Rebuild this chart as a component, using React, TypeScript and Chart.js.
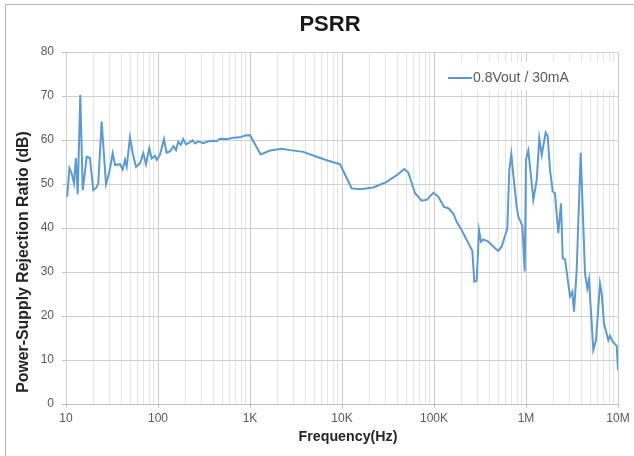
import React, { useEffect, useRef } from "react";
import { Chart, registerables } from "chart.js";

Chart.register(...registerables);

// ---- data ----
const FREQ_HZ = [
  10.3, 10.9, 11.5, 12.2, 12.8, 13.4, 14.3, 15.2, 16.8, 18.2, 19.8, 21.2, 22.4, 24.4, 27.2, 29.6,
  32.2, 34.1, 38.6, 41.3, 43.8, 45.7, 49.6, 53.1, 57.7, 63.7, 69.2, 74.1, 80.4, 85.4, 92.8, 96.8,
  105, 116, 124, 135, 147, 157, 166, 177, 188, 202, 223, 238, 253, 274, 311, 352, 399, 434, 472,
  558, 658, 779, 883, 1000, 1307, 1650, 2211, 2721, 3796, 5309, 7097, 9512, 12750, 15700, 21890,
  30610, 39320, 47560, 52560, 62160, 73500, 83300, 98300, 111400, 128500, 143000, 162100, 176500,
  200100, 226700, 260900, 274200, 291200, 308400, 324300, 343500, 389200, 460300, 500000, 544400,
  626300, 658500, 692200, 727800, 792500, 825000, 911800, 968000, 1000000, 1059000, 1125000,
  1200000, 1307000, 1395000, 1481000, 1637000, 1721000, 1823000, 1951000, 2066000, 2244000,
  2401000, 2506000, 2654000, 3008000, 3186000, 3325000, 3556000, 3932000, 4378000, 4638000,
  4839000, 5178000, 5389000, 5767000, 6373000, 6650000, 7044000, 7845000, 8185000, 8758000,
  9277000, 9680000, 10000000,
];

const PSRR_DB = [
  47.1, 53.6, 52.5, 50.2, 55.9, 47.7, 70.2, 48.6, 56.2, 55.9, 48.6, 49.1, 50.0, 64.2, 50.0, 52.8,
  57.0, 54.3, 54.5, 53.3, 55.5, 53.9, 60.6, 57.0, 53.9, 54.7, 57.0, 54.5, 58.1, 55.8, 56.4, 55.5,
  56.6, 60.2, 57.1, 57.4, 58.6, 57.7, 59.6, 58.9, 60.2, 59.0, 59.5, 59.9, 59.2, 59.7, 59.3, 59.7,
  59.8, 59.7, 60.3, 60.2, 60.5, 60.6, 61.0, 61.1, 56.7, 57.6, 58.0, 57.7, 57.3, 56.2, 55.3, 54.5,
  49.0, 48.8, 49.2, 50.5, 52.0, 53.4, 52.6, 47.9, 46.2, 46.4, 48.0, 47.1, 44.8, 44.5, 43.3, 41.4,
  39.5, 37.3, 34.8, 27.8, 28.0, 39.5, 36.9, 37.4, 36.9, 35.4, 34.8, 35.8, 39.9, 53.2, 56.8, 52.0,
  44.8, 42.6, 40.5, 30.1, 55.6, 57.6, 52.4, 46.4, 50.9, 60.4, 56.6, 61.7, 60.9, 53.2, 48.3, 47.9,
  38.8, 45.6, 33.1, 32.9, 24.4, 25.5, 21.0, 30.5, 57.1, 29.7, 26.3, 28.3, 18.3, 12.3, 14.5, 27.4,
  25.1, 18.3, 14.5, 15.5, 14.2, 13.6, 13.2, 7.7,
];

const SERIES_LABEL = "0.8Vout / 30mA";
const CHART_TITLE = "PSRR";
const X_TITLE = "Frequency(Hz)";
const Y_TITLE = "Power-Supply Rejection Ratio (dB)";
const X_DECADES = [10, 100, 1000, 10000, 100000, 1000000, 10000000];
const X_DECADE_LABELS = ["10", "100", "1K", "10K", "100K", "1M", "10M"];
const Y_MIN = 0;
const Y_MAX = 80;
const Y_STEP = 10;

const FONT = "'Liberation Sans', Arial, sans-serif";
const LINE_COLOR = "#5b9bd5";

function isDecade(v: number) {
  const l = Math.log10(v);
  return Math.abs(l - Math.round(l)) < 1e-9;
}

function xTickValues(): number[] {
  const out: number[] = [];
  for (let i = 0; i < X_DECADES.length - 1; i++) {
    for (let m = 1; m <= 9; m++) out.push(m * X_DECADES[i]);
  }
  out.push(X_DECADES[X_DECADES.length - 1]);
  return out;
}

function fitFontSize(ctx: CanvasRenderingContext2D, text: string, weight: string, target: number) {
  ctx.font = `${weight} 100px ${FONT}`;
  const w = ctx.measureText(text).width;
  return (100 * target) / w;
}

const decorPlugin = {
  id: "decor",
  beforeDraw(chart: any) {
    const ctx = chart.ctx as CanvasRenderingContext2D;
    ctx.save();
    ctx.fillStyle = "#ffffff";
    ctx.fillRect(0, 0, chart.width, chart.height);
    // outer frame
    ctx.strokeStyle = "#b4b4b4";
    ctx.lineWidth = 1;
    ctx.beginPath();
    ctx.moveTo(5.5, chart.height);
    ctx.lineTo(5.5, 4.5);
    ctx.lineTo(chart.width, 4.5);
    ctx.stroke();
    ctx.restore();
  },
  afterDraw(chart: any) {
    const ctx = chart.ctx as CanvasRenderingContext2D;
    const area = chart.chartArea;
    ctx.save();
    // title
    ctx.fillStyle = "#1a1a1a";
    ctx.font = `bold 22px ${FONT}`;
    ctx.textAlign = "center";
    ctx.textBaseline = "middle";
    ctx.fillText(CHART_TITLE, 330, 25);

    // x title
    ctx.fillStyle = "#262626";
    const xs = fitFontSize(ctx, X_TITLE, "bold", 99);
    ctx.font = `bold ${xs}px ${FONT}`;
    ctx.fillText(X_TITLE, 348, 437.5);

    // y title
    const ys = fitFontSize(ctx, Y_TITLE, "bold", 262);
    ctx.font = `bold ${ys}px ${FONT}`;
    ctx.translate(24, 262);
    ctx.rotate(-Math.PI / 2);
    ctx.fillText(Y_TITLE, 0, 0);
    ctx.restore();

    // legend (inside plot, top-right)
    ctx.save();
    const lx = area.right - 180;
    const ly = area.top + 10;
    ctx.fillStyle = "#ffffff";
    ctx.fillRect(lx, ly, 176, 28);
    const cy = ly + 16;
    ctx.strokeStyle = LINE_COLOR;
    ctx.lineWidth = 2;
    ctx.beginPath();
    ctx.moveTo(lx + 10, cy);
    ctx.lineTo(lx + 34, cy);
    ctx.stroke();
    ctx.fillStyle = "#595959";
    ctx.font = `14px ${FONT}`;
    ctx.textAlign = "left";
    ctx.textBaseline = "middle";
    ctx.fillText(SERIES_LABEL, lx + 35, cy);
    ctx.restore();
  },
};

export default function App() {
  const canvasRef = useRef<HTMLCanvasElement | null>(null);

  useEffect(() => {
    if (!canvasRef.current) return;
    const points = FREQ_HZ.map((f, i) => ({ x: f, y: PSRR_DB[i] }));
    const chart = new Chart(canvasRef.current, {
      type: "line",
      data: {
        datasets: [
          {
            label: SERIES_LABEL,
            data: points,
            borderColor: LINE_COLOR,
            backgroundColor: LINE_COLOR,
            borderWidth: 2,
            pointRadius: 0,
            tension: 0,
            fill: false,
          },
        ],
      },
      options: {
        responsive: false,
        animation: false,
        devicePixelRatio: 1,
        layout: { padding: { top: 52, right: 16, left: 0, bottom: 0 } },
        plugins: {
          legend: { display: false },
          title: { display: false },
          tooltip: { enabled: false },
        },
        scales: {
          x: {
            type: "logarithmic",
            min: X_DECADES[0],
            max: X_DECADES[X_DECADES.length - 1],
            afterBuildTicks: (scale: any) => {
              scale.ticks = xTickValues().map((v) => ({ value: v, major: isDecade(v) }));
            },
            afterFit: (scale: any) => {
              scale.height = 52;
            },
            ticks: {
              autoSkip: false,
              maxRotation: 0,
              minRotation: 0,
              padding: 3,
              color: "#595959",
              font: { family: FONT, size: 12 },
              callback: (value: any) => {
                const i = X_DECADES.indexOf(Number(value));
                return i >= 0 ? X_DECADE_LABELS[i] : "";
              },
            },
            grid: {
              color: (c: any) => (c.tick && isDecade(c.tick.value) ? "#cccccc" : "#e4e4e4"),
              tickColor: (c: any) =>
                c.tick && isDecade(c.tick.value) ? "#bfbfbf" : "rgba(0,0,0,0)",
              tickLength: 4,
              lineWidth: 1,
            },
            border: { color: "#bfbfbf", width: 1 },
          },
          y: {
            type: "linear",
            min: Y_MIN,
            max: Y_MAX,
            afterFit: (scale: any) => {
              scale.width = 66;
            },
            ticks: {
              stepSize: Y_STEP,
              padding: 8,
              color: "#595959",
              font: { family: FONT, size: 12 },
            },
            grid: {
              color: "#d0d0d0",
              tickColor: "#bfbfbf",
              tickLength: 4,
            },
            border: { color: "#d0d0d0", width: 1 },
          },
        },
      },
      plugins: [decorPlugin],
    });
    return () => chart.destroy();
  }, []);

  return (
    <div style={{ position: "absolute", left: 0, top: 0, width: 634, height: 456, background: "#fff" }}>
      <canvas ref={canvasRef} width={634} height={456} style={{ display: "block" }} />
    </div>
  );
}
